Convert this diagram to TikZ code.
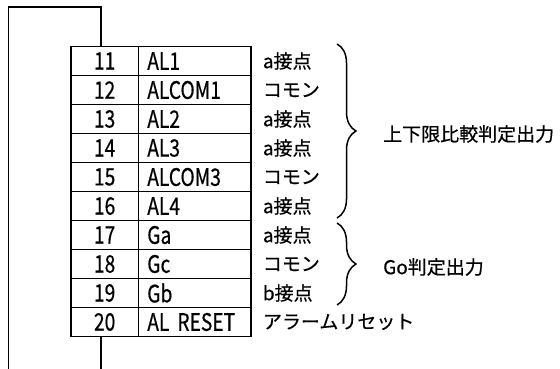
\documentclass[tikz,border=0pt]{standalone}
\usepackage{fontspec}
\setmainfont[FakeBold=0.5]{Noto Sans CJK JP}
\newfontfamily\cellfont[FakeStretch=0.8,FakeBold=0.5]{Noto Sans CJK JP}
\usetikzlibrary{positioning,decorations.pathreplacing}

\begin{document}
\begin{tikzpicture}[x=1pt,y=-1pt,
  wire/.style={line width=1.6pt},
  numcell/.style={draw,line width=1.6pt,outer sep=0pt,inner sep=0pt,
    minimum width=67.3pt,minimum height=29pt,font=\cellfont\fontsize{24}{24}\selectfont},
  sigcell/.style={draw,line width=1.6pt,outer sep=0pt,inner xsep=9pt,inner ysep=0pt,
    text width=94.4pt,minimum height=29pt,align=left,font=\cellfont\fontsize{24}{24}\selectfont},
  note/.style={anchor=west,inner sep=0pt,font=\fontsize{19}{19}\selectfont},
  grp/.style={decorate,decoration={brace,amplitude=19pt},line width=1.5pt}]
\useasboundingbox (0,0) rectangle (560,369);

\foreach \n/\sig/\kind [count=\i from 0] in {11/AL1/a接点, 12/ALCOM1/コモン, 13/AL2/a接点,
    14/AL3/a接点, 15/ALCOM3/コモン, 16/AL4/a接点, 17/Ga/a接点, 18/Gc/コモン, 19/Gb/b接点,
    20/AL RESET/アラームリセット}{
  \node[numcell] (n\n) at (104.65,{61+29*\i}) {\n};
  \node[sigcell,right=0pt of n\n] (s\n) {\sig};
  \node[note,right=12pt of s\n] (c\n) {\kind};
}

\coordinate (tap) at (100.7,7.3);
\coordinate (bot) at (8.3,369);
\draw[wire] (n11.north -| tap) -- (tap) -| (bot);
\draw[wire] (n20.south -| tap) -- (tap |- bot);

\draw[grp] (337,44) -- (337,218);
\draw[grp] (337,223) -- (337,305);
\node[note] (lim) at (383,134) {上下限比較判定出力};
\node[note] (go) at (383,267) {Go判定出力};
\end{tikzpicture}
\end{document}
